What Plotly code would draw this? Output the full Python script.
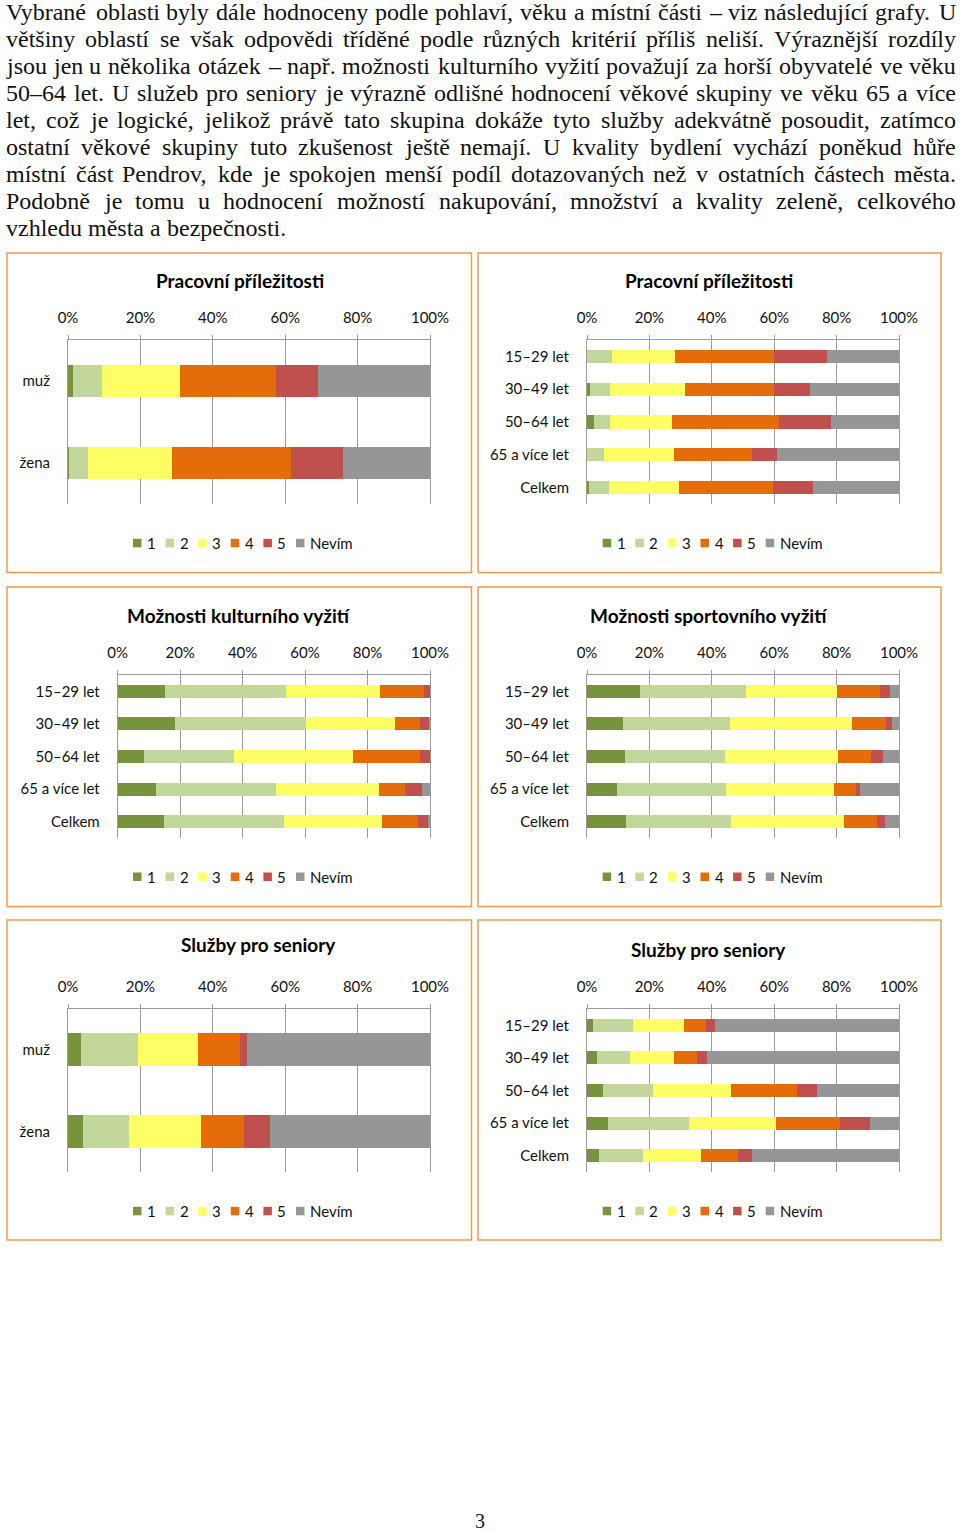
import unicodedata
import plotly.graph_objects as go

# ---------------- DATA ----------------
SERIES = ["1", "2", "3", "4", "5", "Nevím"]
GENDER = ["muž", "žena"]
AGES = ["15–29 let", "30–49 let", "50–64 let", "65 a více let", "Celkem"]

# each list: one row per series (1, 2, 3, 4, 5, Nevím), values in % per category
PRACE_POHLAVI = [
    [1.3, 0.3],
    [8.0, 5.3],
    [21.6, 23.1],
    [26.5, 32.8],
    [11.7, 14.4],
    [30.9, 24.1],
]
PRACE_VEK = [
    [0.0, 0.9, 2.1, 0.0, 0.7],
    [7.9, 6.6, 5.2, 5.4, 6.5],
    [20.2, 24.0, 19.8, 22.4, 22.2],
    [31.9, 28.4, 34.4, 25.0, 30.2],
    [17.0, 11.6, 16.7, 8.1, 12.8],
    [23.0, 28.5, 21.8, 39.1, 27.6],
]
KULTURA_VEK = [
    [15.0, 18.2, 8.3, 12.3, 14.8],
    [39.0, 42.2, 28.9, 38.4, 38.3],
    [30.0, 28.4, 38.0, 32.9, 31.5],
    [14.1, 8.1, 21.7, 8.4, 11.7],
    [1.9, 2.9, 3.1, 5.3, 3.1],
    [0.0, 0.2, 0.0, 2.7, 0.6],
]
SPORT_VEK = [
    [17.0, 11.6, 12.3, 9.7, 12.4],
    [34.1, 34.3, 31.9, 34.7, 33.7],
    [29.0, 38.9, 36.2, 34.8, 36.3],
    [13.9, 11.0, 10.5, 6.9, 10.7],
    [3.0, 1.8, 4.1, 1.3, 2.4],
    [3.0, 2.4, 5.0, 12.6, 4.5],
]
SENIORI_POHLAVI = [
    [3.7, 4.1],
    [15.7, 12.7],
    [16.5, 19.9],
    [11.6, 12.0],
    [1.9, 7.0],
    [50.6, 44.3],
]
SENIORI_VEK = [
    [2.0, 3.1, 5.2, 6.8, 3.8],
    [12.9, 10.7, 15.8, 26.0, 14.3],
    [16.1, 14.1, 25.3, 27.7, 18.3],
    [7.1, 7.4, 21.0, 20.6, 12.0],
    [2.9, 3.1, 6.3, 9.5, 4.5],
    [59.0, 61.6, 26.4, 9.4, 47.1],
]
TICK_VALS = [0, 20, 40, 60, 80, 100]
TICK_TEXT = ["0%", "20%", "40%", "60%", "80%", "100%"]

PARAGRAPH = [
    "Vybrané oblasti byly dále hodnoceny podle pohlaví, věku a místní části – viz následující grafy. U",
    "většiny oblastí se však odpovědi tříděné podle různých kritérií příliš neliší. Výraznější rozdíly",
    "jsou jen u několika otázek – např. možnosti kulturního vyžití považují za horší obyvatelé ve věku",
    "50–64 let. U služeb pro seniory je výrazně odlišné hodnocení věkové skupiny ve věku 65 a více",
    "let, což je logické, jelikož právě tato skupina dokáže tyto služby adekvátně posoudit, zatímco",
    "ostatní věkové skupiny tuto zkušenost ještě nemají. U kvality bydlení vychází poněkud hůře",
    "místní část Pendrov, kde je spokojen menší podíl dotazovaných než v ostatních částech města.",
    "Podobně je tomu u hodnocení možností nakupování, množství a kvality zeleně, celkového",
    "vzhledu města a bezpečnosti.",
]

# ---------------- STYLE ----------------
COLORS = ["#77933C", "#C3D69B", "#FFFF66", "#E46C0A", "#C0504D", "#969696"]
GRID = "#9C9C9C"
BORDER = "#F39A4C"
CHART_FONT = "Lato"
BODY_FONT = "Liberation Serif"

W, H = 960, 1532
def fx(x):
    return x / W
def fy(y):
    return 1 - y / H

CHARTS = [
    dict(title="Pracovní příležitosti", cats=GENDER, data=PRACE_POHLAVI,
         xd=(68, 430), yd=(340, 504), tpos=(240, 281), panel=(7, 253, 471.5, 572.5), leg=(133, 543)),
    dict(title="Pracovní příležitosti", cats=AGES, data=PRACE_VEK,
         xd=(587, 899), yd=(340, 504), tpos=(708.7, 281), panel=(478, 253, 941, 572.5), leg=(602.7, 543)),
    dict(title="Možnosti kulturního vyžití", cats=AGES, data=KULTURA_VEK,
         xd=(117.7, 430), yd=(675, 838), tpos=(239.3, 615), panel=(7, 587, 471.5, 906.5), leg=(133, 876.7)),
    dict(title="Možnosti sportovního vyžití", cats=AGES, data=SPORT_VEK,
         xd=(587, 899), yd=(675, 838), tpos=(708.7, 615), panel=(478, 587, 941, 906.5), leg=(602.7, 876.7)),
    dict(title="Služby pro seniory", cats=GENDER, data=SENIORI_POHLAVI,
         xd=(68, 430), yd=(1009, 1172), tpos=(258.7, 944), panel=(7, 920, 471.5, 1240), leg=(133, 1211)),
    dict(title="Služby pro seniory", cats=AGES, data=SENIORI_VEK,
         xd=(587, 899), yd=(1009, 1172), tpos=(708.7, 949), panel=(478, 920, 941, 1240), leg=(602.7, 1211)),
]

fig = go.Figure()
annotations = []
shapes = []
layout_axes = {}

for i, ch in enumerate(CHARTS, start=1):
    sfx = "" if i == 1 else str(i)
    for s, name in enumerate(SERIES):
        fig.add_trace(go.Bar(
            x=ch["data"][s], y=ch["cats"], orientation="h", name=name,
            marker=dict(color=COLORS[s], line=dict(width=0)),
            xaxis="x" + sfx, yaxis="y" + sfx, showlegend=False,
        ))
    layout_axes["xaxis" + sfx] = dict(
        domain=[fx(ch["xd"][0]), fx(ch["xd"][1])], anchor="y" + sfx, side="top",
        range=[0, 100], tickvals=TICK_VALS, ticktext=TICK_TEXT,
        showgrid=True, gridcolor=GRID, gridwidth=1, zeroline=False,
        showline=True, linecolor=GRID, linewidth=1,
        ticks="outside", ticklen=4, tickcolor=GRID, ticklabelstandoff=6,
        tickfont=dict(family=CHART_FONT, size=15, color="#111"), fixedrange=True,
        automargin=False,
    )
    layout_axes["yaxis" + sfx] = dict(
        domain=[fy(ch["yd"][1]), fy(ch["yd"][0])], anchor="x" + sfx,
        type="category", autorange="reversed",
        showline=True, mirror=True, linecolor=GRID, linewidth=1,
        showgrid=False, zeroline=False, ticks="", ticklabelstandoff=14,
        tickfont=dict(family=CHART_FONT, size=15, color="#111"), fixedrange=True,
        automargin=False,
    )
    # title
    annotations.append(dict(
        text="<b>" + ch["title"] + "</b>", x=fx(ch["tpos"][0]), y=fy(ch["tpos"][1]),
        xref="paper", yref="paper", xanchor="center", yanchor="middle", showarrow=False,
        font=dict(family=CHART_FONT, size=19, color="#000"),
    ))
    # panel border
    x0, y0, x1, y1 = ch["panel"]
    shapes.append(dict(type="rect", xref="paper", yref="paper",
                       x0=fx(x0), x1=fx(x1), y0=fy(y1), y1=fy(y0),
                       line=dict(color=BORDER, width=1.5), fillcolor="rgba(0,0,0,0)", layer="above"))
    # legend (squares + labels)
    lx, ly = ch["leg"]
    for s, name in enumerate(SERIES):
        sx = lx + s * 32.6
        shapes.append(dict(type="rect", xref="paper", yref="paper",
                           x0=fx(sx), x1=fx(sx + 8.5), y0=fy(ly + 4.3), y1=fy(ly - 4.2),
                           line=dict(width=0), fillcolor=COLORS[s]))
        annotations.append(dict(
            text=name, x=fx(sx + 12), y=fy(ly), xref="paper", yref="paper",
            xanchor="left", yanchor="middle", showarrow=False,
            font=dict(family=CHART_FONT, size=15, color="#111"),
        ))

# ---------------- BODY TEXT (justified) ----------------
_low = dict(zip("abcdefghijklmnopqrstuvwxyz",
                [444, 500, 444, 500, 444, 333, 500, 500, 278, 278, 500, 278, 778, 500, 500, 500,
                 500, 333, 389, 278, 500, 500, 722, 500, 500, 444]))
_up = dict(zip("ABCDEFGHIJKLMNOPQRSTUVWXYZ",
               [722, 667, 667, 722, 611, 556, 722, 722, 333, 389, 722, 611, 889, 722, 722, 556,
                722, 667, 556, 611, 722, 722, 944, 722, 722, 611]))
_misc = {" ": 250, ",": 250, ".": 250, "–": 500, "-": 333}
for d in "0123456789":
    _misc[d] = 500

def units(word):
    t = 0
    for c in word:
        b = unicodedata.normalize("NFD", c)[0]
        t += _low.get(b, _up.get(b, _misc.get(b, 500)))
    return t

LEFT, RIGHT = 5, 955
size = 24.0
for line in PARAGRAPH[:-1]:
    words = line.split(" ")
    need = sum(units(w) for w in words) + (len(words) - 1) * 250 * 0.95
    size = min(size, (RIGHT - LEFT) * 1000 / need)

for li, line in enumerate(PARAGRAPH):
    words = line.split(" ")
    widths = [units(w) * size / 1000 for w in words]
    if li < len(PARAGRAPH) - 1:
        gap = (RIGHT - LEFT - sum(widths)) / (len(words) - 1)
    else:
        gap = 250 * size / 1000
    x = LEFT
    yline = 12 + 27 * li
    for w, wd in zip(words, widths):
        annotations.append(dict(
            text=w, x=fx(x), y=fy(yline), xref="paper", yref="paper",
            xanchor="left", yanchor="middle", showarrow=False, borderpad=0,
            font=dict(family=BODY_FONT, size=size, color="#111"),
        ))
        x += wd + gap

# page number
annotations.append(dict(text="3", x=fx(480), y=fy(1521), xref="paper", yref="paper",
                        xanchor="center", yanchor="middle", showarrow=False,
                        font=dict(family=BODY_FONT, size=20, color="#111")))

fig.update_layout(
    width=W, height=H, autosize=False,
    margin=dict(l=0, r=0, t=0, b=0, pad=0, autoexpand=False),
    barmode="stack", bargap=0.6,
    plot_bgcolor="white", paper_bgcolor="white",
    annotations=annotations, shapes=shapes, showlegend=False,
    **layout_axes,
)

POST = ("document.documentElement.style.margin='0';document.documentElement.style.padding='0';"
        "document.documentElement.style.overflow='hidden';"
        "document.body.style.margin='0';document.body.style.padding='0';"
        "document.body.style.overflow='hidden';")

fig.write_html("out.html", config={"displayModeBar": False, "responsive": False}, post_script=POST)
